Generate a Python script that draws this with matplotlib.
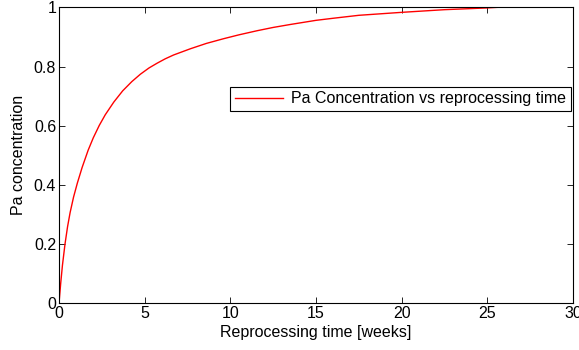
import numpy as np
import matplotlib.pyplot as plt

plt.rcParams['font.family'] = ['Liberation Sans', 'DejaVu Sans']

# values
weeks = [0, 0.1, 0.2, 0.35, 0.5, 0.65, 0.85, 1.07, 1.35, 1.7, 2.0, 2.35, 2.7, 3.2, 3.72,
         4.25, 4.75, 5.25, 5.72, 6.2, 6.69, 7.67, 8.6, 9.61, 10.5, 11.57, 12.5, 13.5,
         15, 16, 17.5, 20, 22.5, 25, 25.6]
pa_conc = [0, 0.068, 0.128, 0.2, 0.259, 0.307, 0.359, 0.406, 0.459, 0.517, 0.559, 0.601,
           0.637, 0.68, 0.718, 0.749, 0.774, 0.795, 0.811, 0.826, 0.839, 0.86, 0.878,
           0.894, 0.907, 0.921, 0.932, 0.942, 0.956, 0.963, 0.973, 0.983, 0.992, 0.998, 1.0]

xticks = [0, 5, 10, 15, 20, 25, 30]
yticks = [0, 0.2, 0.4, 0.6, 0.8, 1]

fig = plt.figure(figsize=(5.79, 3.5), dpi=100)
ax = fig.add_axes([0.1019, 0.1334, 0.8877, 0.8457])

ax.plot(weeks, pa_conc, color='red', lw=1, label='Pa Concentration vs reprocessing time')

ax.set_xlim(0, 30)
ax.set_ylim(0, 1)
ax.set_xticks(xticks)
ax.set_yticks(yticks)
ax.set_xticklabels([str(t) for t in xticks])
ax.set_yticklabels(['0', '0.2', '0.4', '0.6', '0.8', '1'])
ax.tick_params(direction='in', top=True, right=True, length=4, width=0.6,
               labelsize=11.5, pad=2)
for s in ax.spines.values():
    s.set_linewidth(0.8)

ax.set_xlabel('Reprocessing time [weeks]', fontsize=11.5, labelpad=2.5)
ax.set_ylabel('Pa concentration', fontsize=11.5, labelpad=5.5)

leg = ax.legend(loc='upper right', bbox_to_anchor=(0.996, 0.732), fontsize=11.5,
                fancybox=False, framealpha=1, edgecolor='black', handlelength=3.0,
                borderpad=0.3, handletextpad=0.5, borderaxespad=0)
leg.get_frame().set_linewidth(0.8)

fig.savefig('out.png', dpi=100)
